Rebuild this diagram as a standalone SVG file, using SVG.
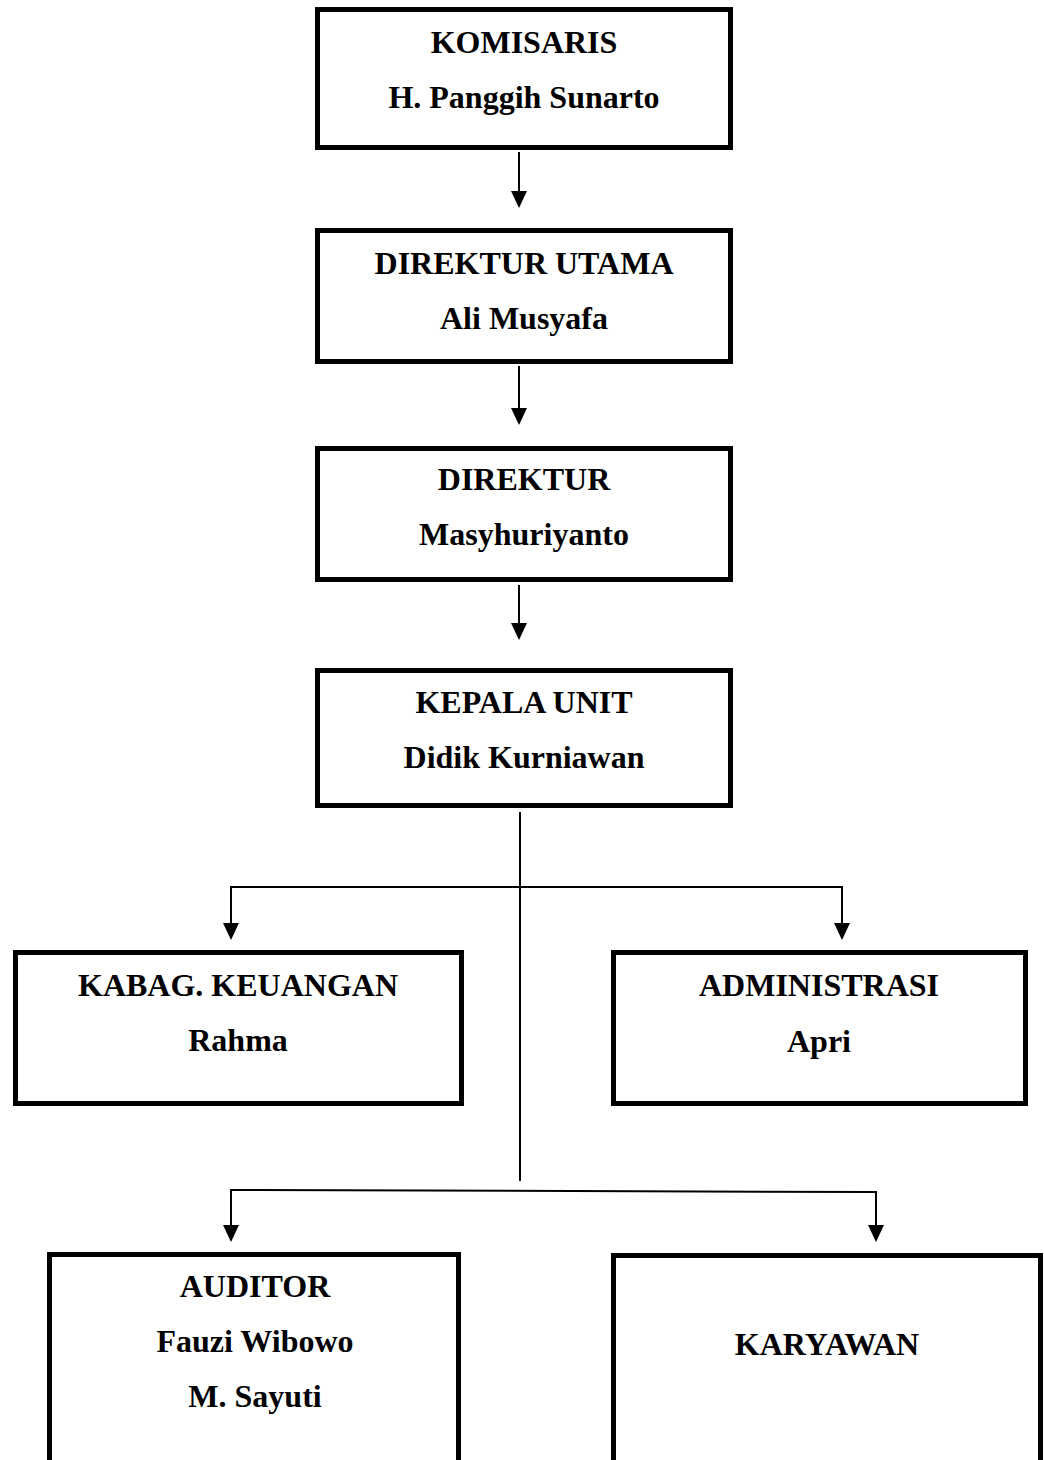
<svg xmlns="http://www.w3.org/2000/svg" width="1044" height="1460" viewBox="0 0 1044 1460">
<style>
.box{fill:#fff;stroke:#000;stroke-width:5}
.t{font-family:"Liberation Serif","Times New Roman",serif;font-weight:bold;font-size:32px;text-anchor:middle;fill:#000}
.c{fill:none;stroke:#000;stroke-width:2}
.ah{fill:#000}
</style>
<g id="connectors">
<line class="c" x1="519" y1="152" x2="519" y2="191"/>
<path class="ah" d="M511,191 L527,191 L519,208 Z"/>
<line class="c" x1="519" y1="366" x2="519" y2="408"/>
<path class="ah" d="M511,408 L527,408 L519,425 Z"/>
<line class="c" x1="519" y1="585" x2="519" y2="623"/>
<path class="ah" d="M511,623 L527,623 L519,640 Z"/>
<line class="c" x1="520" y1="812" x2="520" y2="1181"/>
<polyline class="c" points="231,924 231,887 842,887 842,924"/>
<path class="ah" d="M223,923 L239,923 L231,940 Z"/>
<path class="ah" d="M834,923 L850,923 L842,940 Z"/>
<polyline class="c" points="231,1226 231,1190 876,1192 876,1226"/>
<path class="ah" d="M223,1225 L239,1225 L231,1242 Z"/>
<path class="ah" d="M868,1225 L884,1225 L876,1242 Z"/>
</g>
<g id="komisaris">
<rect class="box" x="317.5" y="9.5" width="413" height="138"/>
<text class="t" x="524" y="53">KOMISARIS</text>
<text class="t" x="524" y="108">H. Panggih Sunarto</text>
</g>
<g id="direktur-utama">
<rect class="box" x="317.5" y="230.5" width="413" height="131"/>
<text class="t" x="524" y="274">DIREKTUR UTAMA</text>
<text class="t" x="524" y="329">Ali Musyafa</text>
</g>
<g id="direktur">
<rect class="box" x="317.5" y="448.5" width="413" height="131"/>
<text class="t" x="524" y="490">DIREKTUR</text>
<text class="t" x="524" y="545">Masyhuriyanto</text>
</g>
<g id="kepala-unit">
<rect class="box" x="317.5" y="670.5" width="413" height="135"/>
<text class="t" x="524" y="713">KEPALA UNIT</text>
<text class="t" x="524" y="768">Didik Kurniawan</text>
</g>
<g id="kabag-keuangan">
<rect class="box" x="15.5" y="952.5" width="446" height="151"/>
<text class="t" x="238" y="996">KABAG. KEUANGAN</text>
<text class="t" x="238" y="1051">Rahma</text>
</g>
<g id="administrasi">
<rect class="box" x="613.5" y="952.5" width="412" height="151"/>
<text class="t" x="819" y="996">ADMINISTRASI</text>
<text class="t" x="819" y="1052">Apri</text>
</g>
<g id="auditor">
<rect class="box" x="49.5" y="1254.5" width="409" height="230"/>
<text class="t" x="255" y="1297">AUDITOR</text>
<text class="t" x="255" y="1352">Fauzi Wibowo</text>
<text class="t" x="255" y="1407">M. Sayuti</text>
</g>
<g id="karyawan">
<rect class="box" x="613.5" y="1255.5" width="427" height="230"/>
<text class="t" x="827" y="1355">KARYAWAN</text>
</g>
</svg>
